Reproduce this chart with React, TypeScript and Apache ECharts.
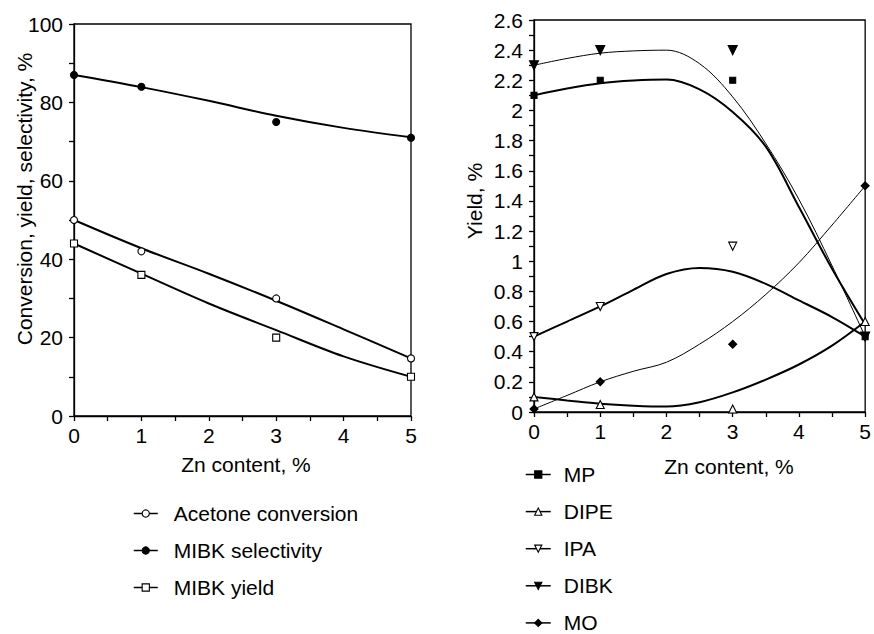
import React, { useEffect, useRef } from 'react';
import * as echarts from 'echarts';

// ---- Left panel data ----
const znContent = [0, 1, 3, 5];
const acetoneConversion = [50, 42, 30, 14.7];
const mibkSelectivity = [87, 84, 75, 71];
const mibkYield = [44, 36, 20, 10];

// fitted trend curves
const leftFitX = [0, 1, 2, 3, 4, 5];
const acetoneFit = [50, 42.8, 36.3, 29.4, 22.1, 14.7];
const selectivityFit = [87, 83.9, 80.4, 76.6, 73.5, 71.1];
const yieldFit = [44, 36.3, 28.7, 21.9, 15.2, 10];

// ---- Right panel data ----
const mpYield = [2.1, 2.2, 2.2, 0.5];
const dipeYield = [0.1, 0.05, 0.02, 0.6];
const ipaYield = [0.5, 0.7, 1.1, 0.5];
const dibkYield = [2.3, 2.4, 2.4, 0.5];
const moYield = [0.02, 0.2, 0.45, 1.5];

const rightFitX = [0, 0.5, 1, 1.5, 2, 2.5, 3, 3.5, 4, 4.5, 5];
const mpFit = [2.1, 2.145, 2.18, 2.198, 2.205, 2.14, 1.99, 1.76, 1.36, 0.95, 0.58];
const dibkFit = [2.3, 2.345, 2.38, 2.395, 2.4, 2.31, 2.09, 1.78, 1.41, 0.97, 0.5];
const ipaFit = [0.5, 0.6, 0.7, 0.81, 0.915, 0.955, 0.93, 0.85, 0.74, 0.63, 0.5];
const moFit = [0.02, 0.11, 0.2, 0.27, 0.33, 0.45, 0.6, 0.78, 0.99, 1.24, 1.5];
const dipeFit = [0.1, 0.077, 0.055, 0.042, 0.036, 0.065, 0.13, 0.215, 0.315, 0.44, 0.6];

const FONT = "'Liberation Sans', Arial, sans-serif";
const FS = 21;

const pairs = (xs: number[], ys: number[]) => xs.map((x, i) => [x, ys[i]]);

const markerSeries = (
  name: string,
  idx: number,
  data: number[],
  symbol: string,
  filled: boolean,
  size: number,
  rotate = 0
) => ({
  name,
  type: 'line',
  xAxisIndex: idx,
  yAxisIndex: idx,
  data: pairs(znContent, data),
  symbol,
  symbolSize: size,
  symbolRotate: rotate,
  showSymbol: true,
  lineStyle: { width: 0, opacity: 0 },
  itemStyle: { color: filled ? '#000' : '#fff', borderColor: '#000', borderWidth: 1.1 },
  z: 5,
  silent: true,
});

const fitSeries = (idx: number, xs: number[], ys: number[], width: number) => ({
  type: 'line',
  xAxisIndex: idx,
  yAxisIndex: idx,
  data: pairs(xs, ys),
  symbol: 'none',
  smooth: 0.35,
  lineStyle: { color: '#000', width },
  z: 3,
  silent: true,
});

const axisCommon = {
  axisLine: { show: true, onZero: false, lineStyle: { color: '#000', width: 1.3 } },
  axisTick: { show: true, inside: false, length: 5, lineStyle: { color: '#000', width: 1.3 } },
  minorTick: { show: true, splitNumber: 2, length: 5, lineStyle: { color: '#000', width: 1.3 } },
  splitLine: { show: false },
  axisLabel: { color: '#000', fontSize: FS, fontFamily: FONT, margin: 9 },
};

export default function App() {
  const ref = useRef<HTMLDivElement>(null);
  useEffect(() => {
    if (!ref.current) return;
    const chart = echarts.init(ref.current, undefined, { renderer: 'svg' });
    const legendCommon = {
      orient: 'vertical',
      padding: 0,
      itemWidth: 24,
      itemHeight: 9,
      itemGap: 16,
      height: 220,
      textStyle: { color: '#000', fontSize: FS, fontFamily: FONT },
      lineStyle: { color: '#000', width: 1.5, opacity: 1, type: 'solid' },
      itemStyle: { borderWidth: 1.1, borderColor: '#000' },
      selectedMode: false,
    };
    chart.setOption({
      animation: false,
      backgroundColor: '#fff',
      textStyle: { fontFamily: FONT },
      grid: [
        { left: 74, top: 24, width: 337, height: 392, show: true, borderColor: '#000', borderWidth: 1.3 },
        { left: 534, top: 20, width: 337, height: 392, show: true, borderColor: '#000', borderWidth: 1.3 },
      ],
      xAxis: [
        { ...axisCommon, type: 'value', gridIndex: 0, min: 0, max: 5, interval: 1 },
        { ...axisCommon, type: 'value', gridIndex: 1, min: 0, max: 5, interval: 1 },
      ],
      yAxis: [
        { ...axisCommon, type: 'value', gridIndex: 0, min: 0, max: 100, interval: 20,
          axisLabel: { ...axisCommon.axisLabel, margin: 11 } },
        { ...axisCommon, type: 'value', gridIndex: 1, min: 0, max: 2.6, interval: 0.2,
          axisLabel: { ...axisCommon.axisLabel, margin: 11 } },
      ],
      legend: [
        {
          ...legendCommon,
          left: 133,
          top: 503,
          textStyle: { ...legendCommon.textStyle, padding: [0, 0, 0, 11] },
          data: ['Acetone conversion', 'MIBK selectivity', 'MIBK yield'],
        },
        {
          ...legendCommon,
          left: 525,
          top: 464,
          itemWidth: 25,
          itemGap: 16.1,
          textStyle: { ...legendCommon.textStyle, padding: [0, 0, 0, 8] },
          data: ['MP', 'DIPE', 'IPA', 'DIBK', 'MO'],
        },
      ],
      graphic: [
        { type: 'text', x: 246, y: 464, style: { text: 'Zn content, %', font: `${FS}px ${FONT}`, fill: '#000', align: 'center', verticalAlign: 'middle' } },
        { type: 'text', x: 729, y: 466, style: { text: 'Zn content, %', font: `${FS}px ${FONT}`, fill: '#000', align: 'center', verticalAlign: 'middle' } },
        { type: 'text', x: 24, y: 199, rotation: Math.PI / 2, style: { text: 'Conversion, yield, selectivity, %', font: `${FS}px ${FONT}`, fill: '#000', align: 'center', verticalAlign: 'middle' } },
        { type: 'text', x: 474, y: 201, rotation: Math.PI / 2, style: { text: 'Yield, %', font: `${FS}px ${FONT}`, fill: '#000', align: 'center', verticalAlign: 'middle' } },
      ],
      series: [
        fitSeries(0, leftFitX, selectivityFit, 2),
        fitSeries(0, leftFitX, acetoneFit, 2),
        fitSeries(0, leftFitX, yieldFit, 2),
        markerSeries('Acetone conversion', 0, acetoneConversion, 'circle', false, 7),
        markerSeries('MIBK selectivity', 0, mibkSelectivity, 'circle', true, 7),
        markerSeries('MIBK yield', 0, mibkYield, 'rect', false, 7),

        fitSeries(1, rightFitX, mpFit, 2),
        fitSeries(1, rightFitX, dibkFit, 1),
        fitSeries(1, rightFitX, ipaFit, 2),
        fitSeries(1, rightFitX, moFit, 1),
        fitSeries(1, rightFitX, dipeFit, 2),
        markerSeries('MP', 1, mpYield, 'rect', true, 6),
        markerSeries('DIPE', 1, dipeYield, 'triangle', false, 8),
        markerSeries('IPA', 1, ipaYield, 'triangle', false, 8, 180),
        markerSeries('DIBK', 1, dibkYield, 'triangle', true, 9, 180),
        markerSeries('MO', 1, moYield, 'diamond', true, 8),
      ],
    });
    return () => chart.dispose();
  }, []);
  return (
    <div
      ref={ref}
      style={{ position: 'fixed', left: 0, top: 0, width: 874, height: 634, background: '#fff' }}
    />
  );
}
